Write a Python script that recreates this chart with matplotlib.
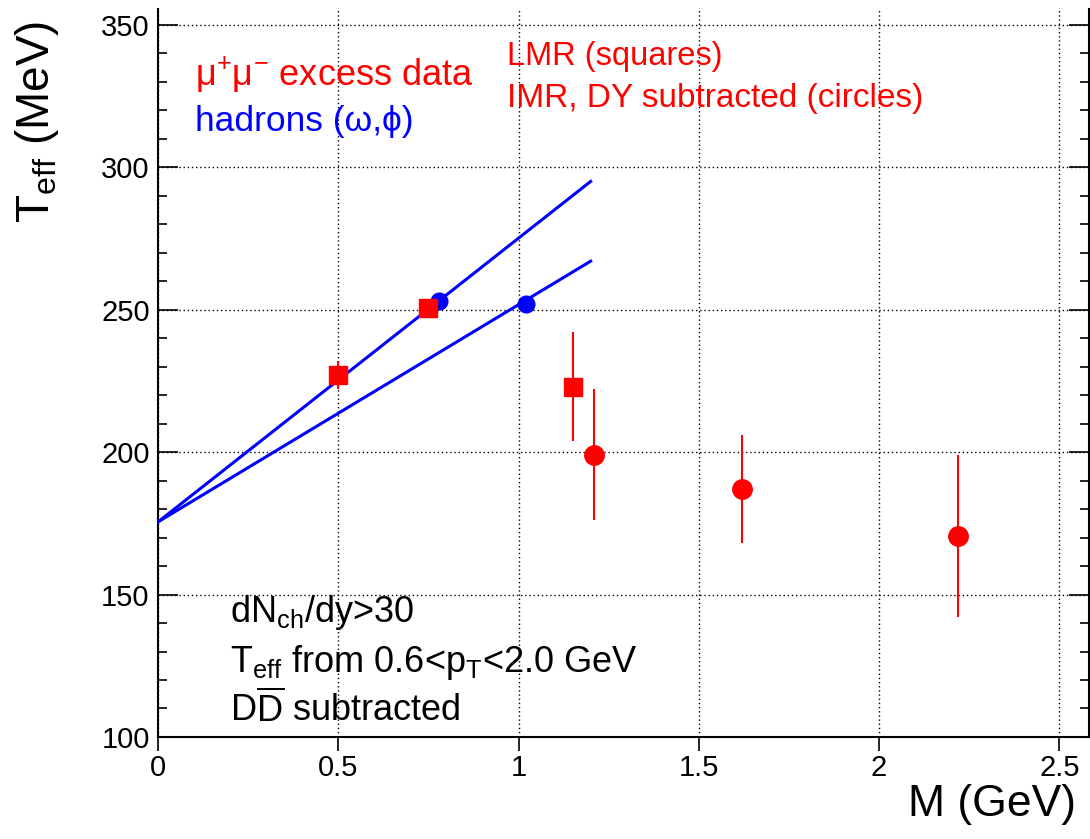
import numpy as np
import matplotlib
matplotlib.use("Agg")
import matplotlib.pyplot as plt
from matplotlib.ticker import MultipleLocator, NullLocator

plt.rcParams['font.family'] = ['Liberation Sans', 'DejaVu Sans']
plt.rcParams['mathtext.fontset'] = 'custom'
plt.rcParams['mathtext.rm'] = 'Liberation Sans'
plt.rcParams['mathtext.it'] = 'Liberation Sans'

# LMR excess data (squares)
lmr_m = [0.50, 0.75, 1.15]
lmr_t = [227, 250.5, 223]
lmr_err = [5, 3, 19]

# IMR excess data, DY subtracted (circles)
imr_m = [1.21, 1.62, 2.22]
imr_t = [199, 187, 170.5]
imr_err = [23, 19, 28.5]

# hadrons (omega, phi)
had_m = [0.78, 1.02]
had_t = [253, 252]

# blue lines through the hadron points
line_m = [0.0, 1.2]
line_t_omega = [175.5, 295]
line_t_phi = [175.5, 267]

xticks = [0, 0.5, 1, 1.5, 2, 2.5]
xticklabels = ['0', '0.5', '1', '1.5', '2', '2.5']

fig = plt.figure(figsize=(10.9, 8.39), dpi=100)
ax = fig.add_axes([0.145, 0.1216, 0.854, 0.868])

ax.plot(line_m, line_t_omega, color='#0000ff', lw=2.2, zorder=3)
ax.plot(line_m, line_t_phi, color='#0000ff', lw=2.2, zorder=3)

ax.plot(had_m, had_t, 'o', color='#0000ff', ms=12, zorder=4)

ax.errorbar(lmr_m, lmr_t, yerr=lmr_err, fmt='s', color='#ff0000', ms=13,
            elinewidth=1.5, capsize=0, zorder=5)
ax.errorbar(imr_m, imr_t, yerr=imr_err, fmt='o', color='#ff0000', ms=14,
            elinewidth=1.5, capsize=0, zorder=5)

ax.set_xlim(0, 2.582)
ax.set_ylim(100, 355.6)
ax.set_xticks(xticks)
ax.set_xticklabels(xticklabels)
ax.xaxis.set_minor_locator(NullLocator())
ax.yaxis.set_major_locator(MultipleLocator(50))
ax.yaxis.set_minor_locator(MultipleLocator(10))

ax.tick_params(axis='y', which='both', direction='in', labelsize=21, width=1.2,
               right=True, left=True)
ax.tick_params(axis='y', which='major', length=14.4, pad=6)
ax.tick_params(axis='y', which='minor', length=6.5)
ax.tick_params(axis='x', which='major', direction='out', length=10, width=1.2,
               labelsize=21, pad=2, top=False)
ax.spines['top'].set_visible(False)
for s in ['left', 'bottom', 'right']:
    ax.spines[s].set_linewidth(1.5)

ax.grid(True, which='major', color='black', linestyle=(0, (1, 2)), lw=1.0)

ax.set_xlabel('M (GeV)', fontsize=32)
ax.xaxis.label.set_horizontalalignment('right')
ax.xaxis.set_label_coords(0.986, -0.064)
ax.set_ylabel(r'T$_{\mathregular{eff}}$ (MeV)', fontsize=33)
ax.yaxis.label.set_horizontalalignment('right')
ax.yaxis.set_label_coords(-0.104, 0.983)

fig.text(195 / 1090, 1 - 75 / 839, '\u03bc$^{+}$\u03bc$^{-}$ excess data',
         color='#ff0000', fontsize=26, va='center')
fig.text(195 / 1090, 1 - 122 / 839, 'hadrons (\u03c9,\u03d5)', color='#0000ff',
         fontsize=25.5, va='center')

fig.text(507 / 1090, 1 - 57 / 839, 'LMR (squares)', color='#ff0000',
         fontsize=23.5, va='center')
fig.text(507 / 1090, 1 - 98 / 839, 'IMR, DY subtracted (circles)', color='#ff0000',
         fontsize=24, va='center')

fig.text(230 / 1090, 1 - 612 / 839, r'dN$_{\mathregular{ch}}$/dy>30', color='black',
         fontsize=26, va='center')
fig.text(230 / 1090, 1 - 662 / 839,
         r'T$_{\mathregular{eff}}$ from 0.6<p$_{\mathregular{T}}$<2.0 GeV',
         color='black', fontsize=26, va='center')
fig.text(230 / 1090, 1 - 710 / 839, r'$\mathregular{D\overline{D}}$ subtracted',
         color='black', fontsize=26, va='center')

fig.savefig('out.png', dpi=100)
